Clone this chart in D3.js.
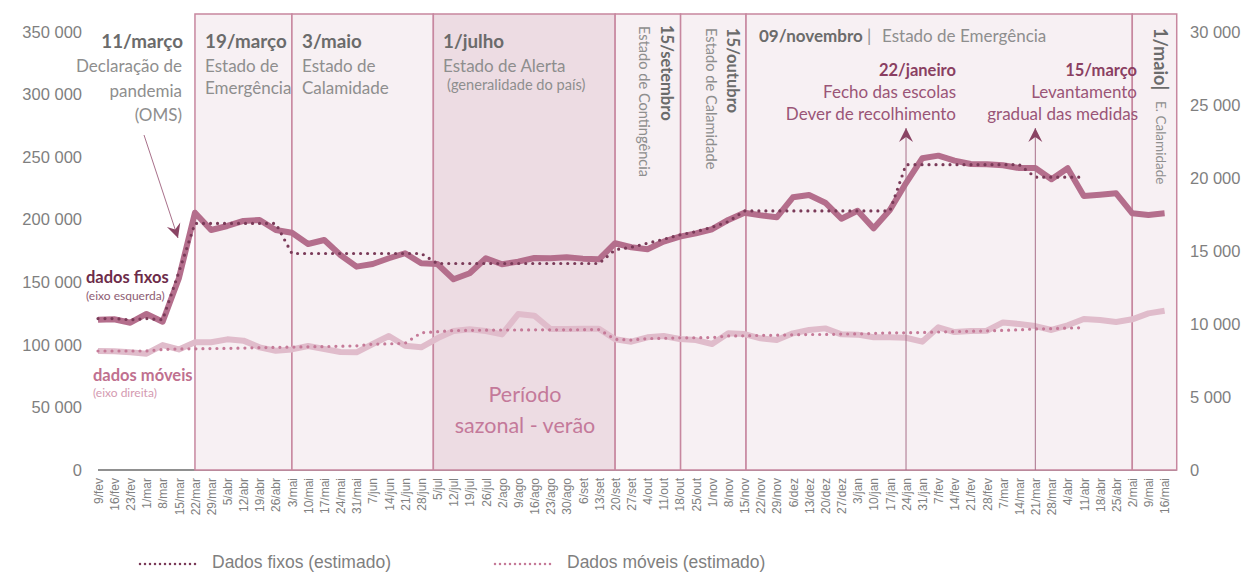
<!DOCTYPE html>
<html>
<head>
<meta charset="utf-8">
<script src="https://cdn.jsdelivr.net/npm/d3@7"></script>
<style>
  body { margin: 0; background: #fff; }
  svg text { font-family: "Lato", "Open Sans", sans-serif; }
  .tick text, .axlab, .leg { font-family: "Liberation Sans", Arial, sans-serif !important; fill: #7f7f7f; }
</style>
</head>
<body>
<svg id="chart" width="1249" height="573"></svg>
<script>
// weekly categories, 9/fev/2020 .. 16/mai/2021
var weeks = ["9/fev","16/fev","23/fev","1/mar","8/mar","15/mar","22/mar","29/mar","5/abr","12/abr","19/abr","26/abr",
  "3/mai","10/mai","17/mai","24/mai","31/mai","7/jun","14/jun","21/jun","28/jun","5/jul","12/jul","19/jul","26/jul",
  "2/ago","9/ago","16/ago","23/ago","30/ago","6/set","13/set","20/set","27/set","4/out","11/out","18/out","25/out",
  "1/nov","8/nov","15/nov","22/nov","29/nov","6/dez","13/dez","20/dez","27/dez","3/jan","10/jan","17/jan","24/jan",
  "31/jan","7/fev","14/fev","21/fev","28/fev","7/mar","14/mar","21/mar","28/mar","4/abr","11/abr","18/abr","25/abr",
  "2/mai","9/mai","16/mai"];

// dados fixos (eixo esquerda)
var fixos = [120000,120500,117700,124700,118500,153000,205600,191800,195000,199000,199800,191800,189600,180600,
  183800,171800,162500,164600,169200,173200,165200,164600,152400,157200,169200,164400,166500,169400,169200,170000,
  168900,168400,181200,178000,176400,182500,186500,189100,192400,199800,205600,203500,201900,217900,219800,213600,
  200800,207200,193100,207800,229300,249100,251200,247200,244500,244300,243500,241300,241300,232300,241100,219000,
  220000,221100,205100,203800,205100];

// dados fixos estimado (ends 11/abr)
var fixosEst = [121000,121000,120000,121000,120000,158000,197000,197000,197000,197000,197000,197000,
  173000,173000,173000,173000,173000,173000,173000,173000,173000,
  165000,165000,165000,165000,165000,165000,165000,165000,165000,165000,165000,
  176000,178000,181200,184400,187800,190500,194000,198500,207000,
  207000,207000,207000,207000,207000,207000,207000,207000,207000,
  244000,244000,244000,244000,244000,244000,244000,244000,
  234000,234000,234000,234000];

// dados moveis (eixo direita)
var moveis = [8150,8130,8060,7970,8560,8260,8750,8750,8950,8860,8400,8170,8260,8490,8290,8080,8060,8630,9180,
  8510,8400,9020,9520,9640,9520,9290,10680,10570,9660,9660,9680,9680,8950,8790,9090,9180,8970,8900,8630,9360,
  9310,9020,8900,9360,9590,9700,9290,9270,9090,9090,9060,8790,9770,9450,9520,9540,10110,10000,9860,9590,9910,
  10340,10270,10140,10320,10730,10910];

// dados moveis estimado (ends 11/abr)
var moveisEst = [8150,8150,8150,8150,8250,8290,8300,8320,8330,8350,8380,8400,8420,8440,8450,8480,8500,
  8620,8640,8680,9400,9470,9550,9560,9580,9590,9590,9600,9600,9600,9610,9620,
  8950,8900,9000,9020,9050,9060,9070,9180,9190,9220,9230,9260,9280,9280,9310,9320,9360,9390,9400,9420,
  9450,9480,9500,9530,9560,9600,9660,9680,9720,9750];

var leftTicks = [0,50000,100000,150000,200000,250000,300000,350000];
var rightTicks = [0,5000,10000,15000,20000,25000,30000];

// periods: [start, end] in week index units
var periods = [
  {s: 6, e: 12, dark: false},
  {s: 12, e: 20.75, dark: false},
  {s: 20.75, e: 32, dark: true},
  {s: 32, e: 36.05, dark: false},
  {s: 36.05, e: 40.1, dark: false},
  {s: 40.1, e: 64, dark: false},
  {s: 64, e: 66.75, dark: false}
];

var svg = d3.select("#chart");
var fmt = function(v) { return v === 0 ? "0" : d3.format(",")(v).replace(/,/g, " "); };

var x = d3.scalePoint().domain(weeks).range([98, 1164.6]);
var xi = function(i) { return x.range()[0] + i * x.step(); };
var yL = d3.scaleLinear().domain([0, 350000]).range([470, 32]);
var yR = d3.scaleLinear().domain([0, 30000]).range([470, 32]);

// x axis line
svg.append("line").attr("x1", xi(0)).attr("x2", xi(66.75)).attr("y1", 470).attr("y2", 470)
  .attr("stroke", "#6b6b6b").attr("stroke-width", 1.5);

// shaded periods
svg.append("g").selectAll("rect").data(periods).enter().append("rect")
  .attr("x", function(d) { return xi(d.s); })
  .attr("width", function(d) { return xi(d.e) - xi(d.s); })
  .attr("y", 14).attr("height", 470 - 14)
  .attr("fill", function(d) { return d.dark ? "#eddce3" : "#f7f0f3"; })
  .attr("stroke", "#c7879f").attr("stroke-width", 1.5);

// axes
var gx = svg.append("g").attr("transform", "translate(0,470)")
  .call(d3.axisBottom(x).tickSize(0));
gx.select(".domain").remove();
gx.selectAll("text").attr("transform", "rotate(-90)").attr("text-anchor", "end")
  .attr("x", -8).attr("y", 0).attr("dy", "0.35em").style("font-size", "12px");

var gl = svg.append("g").attr("transform", "translate(82,0)")
  .call(d3.axisLeft(yL).tickValues(leftTicks).tickFormat(fmt).tickSize(0).tickPadding(0));
gl.select(".domain").remove();
gl.selectAll("text").style("font-size", "16.5px");

var gr = svg.append("g").attr("transform", "translate(1190,0)")
  .call(d3.axisRight(yR).tickValues(rightTicks).tickFormat(fmt).tickSize(0).tickPadding(0));
gr.select(".domain").remove();
gr.selectAll("text").style("font-size", "16.5px");

// lines
var lineL = d3.line().x(function(d, i) { return xi(i); }).y(function(d) { return yL(d); });
var lineR = d3.line().x(function(d, i) { return xi(i); }).y(function(d) { return yR(d); });

svg.append("path").datum(moveis).attr("d", lineR).attr("fill", "none")
  .attr("stroke", "#e0bccb").attr("stroke-width", 6).attr("stroke-linejoin", "round");
svg.append("path").datum(fixos).attr("d", lineL).attr("fill", "none")
  .attr("stroke", "#b46e8c").attr("stroke-width", 6).attr("stroke-linejoin", "round");
svg.append("path").datum(moveisEst).attr("d", lineR).attr("fill", "none")
  .attr("stroke", "#c57a98").attr("stroke-width", 3.2).attr("stroke-linecap", "round")
  .attr("stroke-dasharray", "0 7");
svg.append("path").datum(fixosEst).attr("d", lineL).attr("fill", "none")
  .attr("stroke", "#7a3a58").attr("stroke-width", 3.2).attr("stroke-linecap", "round")
  .attr("stroke-dasharray", "0 7");

// arrow marker
svg.append("defs").append("marker").attr("id", "arr")
  .attr("viewBox", "-14 -8 16 16").attr("refX", 0).attr("refY", 0)
  .attr("markerWidth", 16).attr("markerHeight", 16).attr("markerUnits", "userSpaceOnUse")
  .attr("orient", "auto")
  .append("path").attr("d", "M0,0 L-14,-7 L-9,0 L-14,7 Z").attr("fill", "#8a4464");

var arrowCol = "#a8708a";
svg.append("line").attr("x1", 144).attr("y1", 135).attr("x2", 178).attr("y2", 238)
  .attr("stroke", arrowCol).attr("stroke-width", 1).attr("marker-end", "url(#arr)");
[50, 58].forEach(function(i) {
  svg.append("line").attr("x1", xi(i)).attr("x2", xi(i)).attr("y1", 470).attr("y2", 128)
    .attr("stroke", arrowCol).attr("stroke-width", 1).attr("marker-end", "url(#arr)");
});

// text helpers
function txt(s, xx, yy, size, col, weight, anchor) {
  return svg.append("text").attr("x", xx).attr("y", yy).text(s)
    .style("font-size", size + "px").attr("fill", col)
    .style("font-weight", weight || "normal").attr("text-anchor", anchor || "start");
}
function vtxt(s, xx, yy, size, col, weight) {
  return svg.append("text").attr("transform", "translate(" + xx + "," + yy + ") rotate(90)").text(s)
    .style("font-size", size + "px").attr("fill", col).style("font-weight", weight || "normal");
}
var hd = "#6b6b6b", sub = "#8e8e8e", mauve = "#8a3f62", mauve2 = "#9a5577";
var hs = 18.8, ss = 17;

txt("11/março", 183, 48, hs, hd, "bold", "end");
txt("Declaração de", 182, 72, ss, sub, "normal", "end");
txt("pandemia", 182, 97, ss, sub, "normal", "end");
txt("(OMS)", 182, 121, ss, sub, "normal", "end");

txt("19/março", 205, 48, hs, hd, "bold");
txt("Estado de", 205, 72, ss, sub);
txt("Emergência", 205, 94, ss, sub);

txt("3/maio", 302, 48, hs, hd, "bold");
txt("Estado de", 302, 72, ss, sub);
txt("Calamidade", 302, 94, ss, sub);

txt("1/julho", 443, 48, hs, hd, "bold");
txt("Estado de Alerta", 443, 72, ss, sub);
txt("(generalidade do país)", 447, 90, 14.6, sub);

vtxt("15/setembro", 661, 25, 16.5, hd, "bold");
vtxt("Estado de Contingência", 639, 26, 14.6, sub);
vtxt("15/outubro", 727, 28, 16.5, hd, "bold");
vtxt("Estado de Calamidade", 706, 28, 14.6, sub);

txt("09/novembro", 759, 42, 17, hd, "bold");
txt("|", 867, 42, 17, sub);
txt("Estado de Emergência", 882, 42, ss, sub);

txt("22/janeiro", 956, 76, 16.5, mauve, "bold", "end");
txt("Fecho das escolas", 956, 98, ss, mauve2, "normal", "end");
txt("Dever de recolhimento", 956, 120, ss, mauve2, "normal", "end");

txt("15/março", 1137, 76, 16.5, mauve, "bold", "end");
txt("Levantamento", 1137, 98, ss, mauve2, "normal", "end");
txt("gradual das medidas", 1138, 120, ss, mauve2, "normal", "end");

vtxt("1/maio|", 1154, 28, 18, hd, "bold");
vtxt("E. Calamidade", 1156, 101, 13.5, sub);

txt("dados fixos", 86, 283, 16.5, "#6d2c4a", "bold");
txt("(eixo esquerda)", 86, 300, 12, "#8d5d73");
txt("dados móveis", 93, 381, 16.5, "#c0708f", "bold");
txt("(eixo direita)", 93, 397, 12, "#d49ab1");

txt("Período", 525, 402, 21.5, "#c4799a", "normal", "middle");
txt("sazonal - verão", 525, 433, 21.5, "#c4799a", "normal", "middle");

// legend
var legend = [
  {label: "Dados fixos (estimado)", col: "#7a3a58", x: 140, tx: 212},
  {label: "Dados móveis (estimado)", col: "#c57a98", x: 495, tx: 567}
];
legend.forEach(function(l) {
  svg.append("line").attr("x1", l.x).attr("x2", l.x + 60).attr("y1", 564).attr("y2", 564)
    .attr("stroke", l.col).attr("stroke-width", 2.5).attr("stroke-linecap", "round")
    .attr("stroke-dasharray", "0 5");
  svg.append("text").attr("class", "leg").attr("x", l.tx).attr("y", 568).text(l.label)
    .style("font-size", "17.5px");
});
</script>
</body>
</html>
